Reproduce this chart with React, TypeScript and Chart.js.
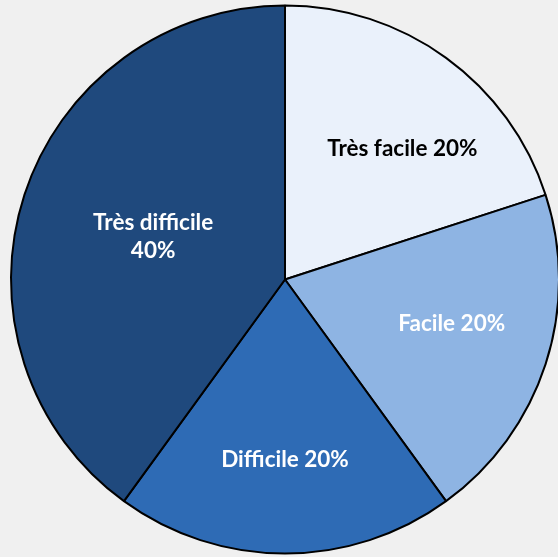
import React, { useEffect, useRef } from "react";
import { Chart, registerables } from "chart.js";

Chart.register(...registerables);

const categories = ["Très facile", "Facile", "Difficile", "Très difficile"];
const values = [20, 20, 20, 40];
const percentLabels = ["20%", "20%", "20%", "40%"];
const sliceColors = ["#EAF1FB", "#8EB4E3", "#2E6BB5", "#1F497D"];
const labelColors = ["#000000", "#FFFFFF", "#FFFFFF", "#FFFFFF"];

// label placement: [radius fraction, angle shift in degrees, multiline]
const labelPlacement = [
  { frac: 0.64, shift: 6, lines: false },
  { frac: 0.63, shift: -3, lines: false },
  { frac: 0.657, shift: 0, lines: false },
  { frac: 0.506, shift: 0, lines: true },
];

const labelPlugin = {
  id: "sliceLabels",
  afterDatasetsDraw(chart: any) {
    const ctx = chart.ctx;
    const meta = chart.getDatasetMeta(0);
    ctx.save();
    ctx.font = "bold 22.5px Lato";
    ctx.textAlign = "center";
    ctx.textBaseline = "middle";
    meta.data.forEach((arc: any, i: number) => {
      const { x, y, startAngle, endAngle, outerRadius } = arc.getProps(
        ["x", "y", "startAngle", "endAngle", "outerRadius"],
        true
      );
      const p = labelPlacement[i];
      const mid = (startAngle + endAngle) / 2 + (p.shift * Math.PI) / 180;
      const r = outerRadius * p.frac;
      const lx = x + Math.cos(mid) * r;
      const ly = y + Math.sin(mid) * r;
      ctx.fillStyle = labelColors[i];
      if (p.lines) {
        ctx.fillText(categories[i], lx, ly - 14);
        ctx.fillText(percentLabels[i], lx, ly + 14);
      } else {
        ctx.fillText(categories[i] + " " + percentLabels[i], lx, ly);
      }
    });
    ctx.restore();
  },
};

export default function App() {
  const ref = useRef<HTMLCanvasElement>(null);
  useEffect(() => {
    document.body.style.margin = "0";
    const chart = new Chart(ref.current!, {
      type: "pie",
      data: {
        labels: categories,
        datasets: [
          {
            data: values,
            backgroundColor: sliceColors,
            borderColor: "#000000",
            borderWidth: 2,
          },
        ],
      },
      options: {
        animation: false,
        responsive: false,
        radius: 274,
        layout: { padding: { left: 12, right: 0, top: 2, bottom: 0 } },
        plugins: {
          legend: { display: false },
          tooltip: { enabled: false },
        },
      } as any,
      plugins: [labelPlugin],
    });
    return () => chart.destroy();
  }, []);
  return (
    <div style={{ width: 558, height: 557, background: "#F0F0F0" }}>
      <canvas ref={ref} width={558} height={557} />
    </div>
  );
}
